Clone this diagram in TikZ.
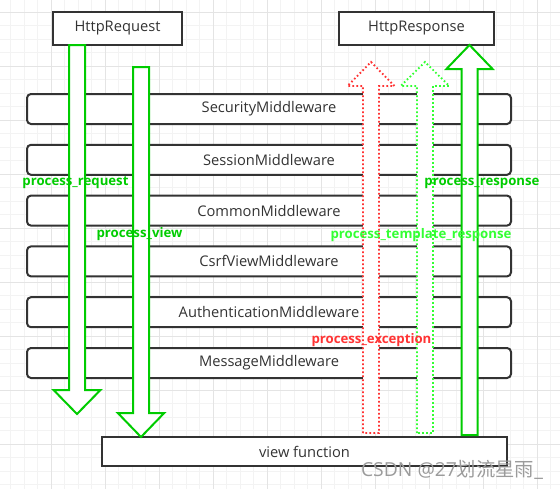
\documentclass[tikz,border=0pt]{standalone}
\usepackage{fontspec}
\setmainfont{Open Sans}
\newfontfamily\cjkfont{Noto Sans CJK SC}
\usetikzlibrary{positioning, calc}
\usepackage{xcolor}
\definecolor{boxline}{RGB}{51,51,51}
\definecolor{textgray}{RGB}{51,51,51}
\definecolor{flowgreen}{RGB}{0,204,0}
\definecolor{tmplgreen}{RGB}{51,255,51}
\definecolor{excred}{RGB}{255,51,51}
\definecolor{gridminor}{RGB}{243,243,243}
\definecolor{gridmajor}{RGB}{228,228,228}
\definecolor{markgray}{RGB}{155,155,155}

% block arrow from #2 to tip #3, head half width #4
\newcommand{\blockarrow}[4][]{%
  \draw[#1] let \p1=(#2), \p2=(#3), \n1={18pt*sign(\y1-\y2)} in
    ({\x1-6pt},\y1) -- ({\x1-6pt},{\y2+\n1}) -- ({\x1-#4},{\y2+\n1}) -- (\x1,\y2)
    -- ({\x1+#4},{\y2+\n1}) -- ({\x1+6pt},{\y2+\n1}) -- ({\x1+6pt},\y1) -- cycle;}

\begin{document}
\begin{tikzpicture}[
    x=0.75pt, y=-0.75pt,
    every node/.style={font=\fontsize{11}{13}\selectfont, text=textgray},
    endbox/.style={rectangle, draw=boxline, fill=white, line width=1.5pt,
        minimum height=24.75pt, inner sep=0pt, outer sep=0pt},
    mwbox/.style={rectangle, draw=boxline, fill=white, line width=1.5pt,
        minimum width=363pt, minimum height=22.5pt, inner sep=0pt,
        outer sep=0pt, rounded corners=3pt},
    solidarrow/.style={draw=flowgreen, fill=white, line width=1.5pt},
    excarrow/.style={draw=excred, fill=white, line width=1.4pt,
        dash pattern=on 1.2pt off 1.8pt},
    tmplarrow/.style={draw=tmplgreen, fill=white, line width=1.4pt,
        dash pattern=on 1.2pt off 1.8pt},
    hooklabel/.style={font=\fontsize{9.9}{12}\selectfont\bfseries, inner sep=0pt},
]
\useasboundingbox (0,0) rectangle (560,489);

% === BACKGROUND GRID ===
\foreach \gx in {0,...,40}
    \draw[gridminor, line width=0.75pt] ({10.5+13.5*\gx},0) -- ({10.5+13.5*\gx},489);
\foreach \gy in {0,...,35}
    \draw[gridminor, line width=0.75pt] (0,{12+13.5*\gy}) -- (560,{12+13.5*\gy});
\foreach \gx in {0,...,9}
    \draw[gridmajor, line width=0.75pt] ({51+54*\gx},0) -- ({51+54*\gx},489);
\foreach \gy in {0,...,8}
    \draw[gridmajor, line width=0.75pt] (0,{12+54*\gy}) -- (560,{12+54*\gy});

% === REQUEST / RESPONSE ===
\node[endbox, minimum width=96.75pt] (req) at (117.5,28.5) {HttpRequest};
\node[endbox, minimum width=116.25pt] (resp) at (416.5,28.5) {HttpResponse};

% === MIDDLEWARE STACK ===
\node[mwbox] (security) at (269,109) {SecurityMiddleware};
\node[mwbox, below=15.6pt of security] (session) {SessionMiddleware};
\node[mwbox, below=15.6pt of session] (common) {CommonMiddleware};
\node[mwbox, below=15.6pt of common] (csrf) {CsrfViewMiddleware};
\node[mwbox, below=15.6pt of csrf] (auth) {AuthenticationMiddleware};
\node[mwbox, below=15.6pt of auth] (message) {MessageMiddleware};

% === VIEW ===
\node[endbox, minimum width=303.75pt, minimum height=21.75pt] (view) at (304.5,451.5) {view function};

% === ARROWS ===
\coordinate (reqtip) at (77,414);
\coordinate (viewstart) at (141,67);
\coordinate (excstart) at (371,433);
\coordinate (exctip) at (371,62);
\coordinate (tmplstart) at (425,433);
\coordinate (tmpltip) at (425,62);
\coordinate (respstart) at (469.5,435);

\blockarrow[solidarrow]{req.south -| reqtip}{reqtip}{17.6pt}
\blockarrow[solidarrow]{viewstart}{view.north -| viewstart}{17.4pt}
\blockarrow[excarrow]{excstart}{exctip}{17.6pt}
\blockarrow[tmplarrow]{tmplstart}{tmpltip}{18.2pt}
\blockarrow[solidarrow]{respstart}{resp.south -| respstart}{17.3pt}

% === HOOK LABELS ===
\node[hooklabel, text=flowgreen] (lblreq) at (75.5,183) {process\_request};
\node[hooklabel, text=flowgreen] (lblview) at (139.5,234) {process\_view};
\node[hooklabel, text=flowgreen] (lblresp) at (482,183) {process\_response};
\node[hooklabel, text=tmplgreen] (lbltmpl) at (421,235) {process\_template\_response};
\node[hooklabel, text=excred] (lblexc) at (371.5,340) {process\_exception};

% watermark
\node[text=markgray, font=\fontsize{14.5}{16}\selectfont, inner sep=0pt] (mark) at (452,470) {CSDN @27{\cjkfont 划流星雨}\_};
\end{tikzpicture}
\end{document}
